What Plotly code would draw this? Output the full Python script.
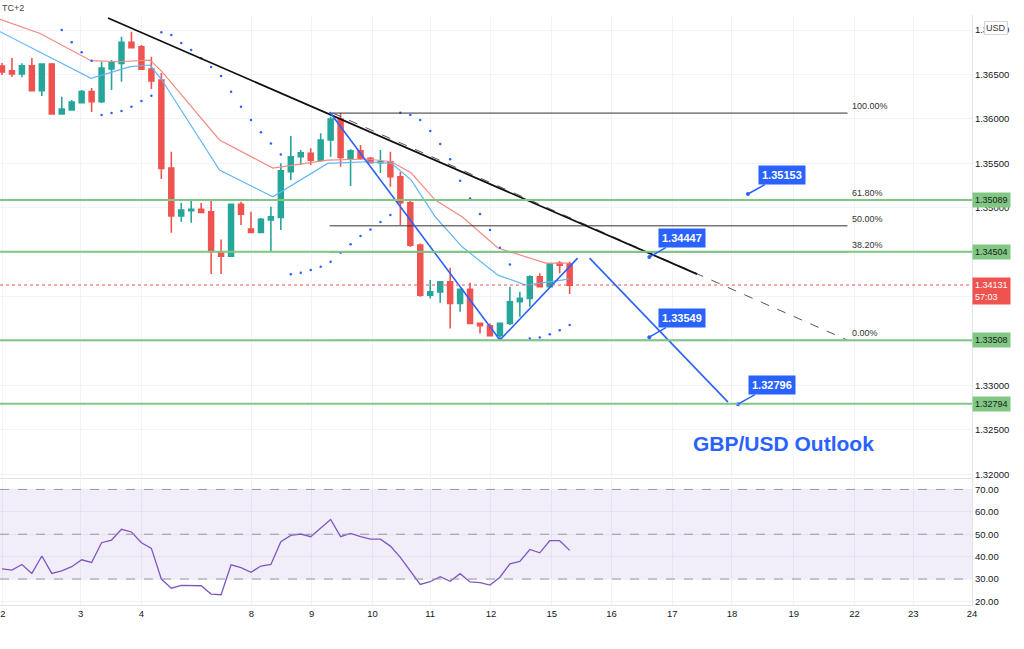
import plotly.graph_objects as go
from plotly.subplots import make_subplots

# GBP/USD 4h candles
opens = [1.36596, 1.36543, 1.36506, 1.36599, 1.36318, 1.36618, 1.36055, 1.36101, 1.36183, 1.36307,
         1.36194, 1.36562, 1.36626, 1.36863, 1.36813, 1.36562, 1.36438, 1.35447, 1.34907, 1.34966,
         1.34982, 1.34955, 1.34505, 1.34456, 1.35039, 1.34760, 1.34723, 1.34862, 1.34892, 1.35406,
         1.35575, 1.35613, 1.35537, 1.35763, 1.35999, 1.35557, 1.35642, 1.35557, 1.35507, 1.35518,
         1.35349, 1.35057, 1.34580, 1.34017, 1.34054, 1.34167, 1.33924, 1.34082, 1.33699, 1.33672,
         1.33559, 1.33699, 1.33942, 1.33980, 1.34223, 1.34111, 1.34374, 1.34366]
highs = [1.36630, 1.36686, 1.36626, 1.36686, 1.36624, 1.36630, 1.36250, 1.36213, 1.36326, 1.36348,
         1.36644, 1.36663, 1.36926, 1.36982, 1.36832, 1.36700, 1.36517, 1.35631, 1.35053, 1.35087,
         1.35053, 1.35087, 1.34644, 1.35042, 1.35068, 1.34955, 1.34884, 1.35012, 1.35500, 1.35808,
         1.35650, 1.35669, 1.35838, 1.36025, 1.36067, 1.35658, 1.35706, 1.35571, 1.35650, 1.35631,
         1.35406, 1.35087, 1.34599, 1.34186, 1.34175, 1.34325, 1.34085, 1.34156, 1.33708, 1.33699,
         1.33702, 1.34111, 1.34054, 1.34242, 1.34262, 1.34374, 1.34400, 1.34392]
lows = [1.36495, 1.36472, 1.36469, 1.36314, 1.36258, 1.36050, 1.36050, 1.36095, 1.36179, 1.36078,
        1.36179, 1.36326, 1.36419, 1.36799, 1.36551, 1.36337, 1.35323, 1.34719, 1.34843, 1.34831,
        1.34941, 1.34254, 1.34254, 1.34445, 1.34806, 1.34715, 1.34715, 1.34505, 1.34749, 1.35312,
        1.35481, 1.35481, 1.35518, 1.35575, 1.35462, 1.35245, 1.35537, 1.35498, 1.35391, 1.35237,
        1.34806, 1.34561, 1.33998, 1.33980, 1.33931, 1.33642, 1.33829, 1.33691, 1.33586, 1.33556,
        1.33510, 1.33680, 1.33773, 1.33886, 1.34107, 1.34102, 1.34262, 1.34029]
closes = [1.36528, 1.36506, 1.36599, 1.36318, 1.36618, 1.36055, 1.36112, 1.36191, 1.36307, 1.36194,
          1.36573, 1.36633, 1.36863, 1.36802, 1.36559, 1.36427, 1.35444, 1.34907, 1.34974, 1.34982,
          1.34949, 1.34505, 1.34456, 1.35039, 1.34929, 1.34723, 1.34870, 1.34899, 1.35417, 1.35575,
          1.35620, 1.35537, 1.35763, 1.35999, 1.35568, 1.35642, 1.35557, 1.35507, 1.35518, 1.35349,
          1.35057, 1.34580, 1.34017, 1.34054, 1.34167, 1.33924, 1.34082, 1.33699, 1.33672, 1.33559,
          1.33699, 1.33942, 1.33980, 1.34223, 1.34111, 1.34366, 1.34355, 1.34130]
candle_x = list(range(len(opens)))

# moving averages (sampled points)
ema_x = [-0.2, 3.77, 8.94, 11.7, 14.86, 16.06, 21.84, 27.2, 32.7, 36.7, 39.1, 41.1, 43.5, 46.2, 49.8, 54.6, 56.9]
ema_slow = [1.37122, 1.36964, 1.36656, 1.36644, 1.36663, 1.36532, 1.35763, 1.35447, 1.35537, 1.35549,
            1.35518, 1.35391, 1.35087, 1.34899, 1.34547, 1.34378, 1.34378]
ema_fast_x = [-0.2, 3.77, 8.94, 12.9, 14.86, 16.06, 21.84, 27.2, 32.7, 36.7, 39.1, 41.1, 43.5, 46.2, 49.8, 52.6, 56.9]
ema_fast = [1.36982, 1.36757, 1.36457, 1.36588, 1.36607, 1.36438, 1.35425, 1.35124, 1.35500, 1.35518,
            1.35500, 1.35312, 1.34899, 1.34561, 1.34242, 1.34130, 1.34197]

# parabolic SAR dots
sar_x = [6, 7, 8, 9, 10, 11, 12, 13, 14, 15, 16, 17, 18, 19, 20, 21, 22, 23, 24, 25, 26, 27, 28,
         29, 30, 31, 32, 33, 34, 35, 36, 37, 38, 39, 40, 41, 42, 43, 44, 45, 46, 47, 48, 49, 50, 51,
         53, 54, 55, 56, 57]
sar_y = [1.37001, 1.36863, 1.36750, 1.36656, 1.36044, 1.36067, 1.36089, 1.36137, 1.36202, 1.36261,
         1.36975, 1.36945, 1.36855, 1.36776, 1.36683, 1.36585, 1.36483, 1.36306, 1.36137, 1.35988,
         1.35849, 1.35723, 1.35599, 1.34253, 1.34268, 1.34299, 1.34336, 1.34392, 1.34494, 1.34591,
         1.34682, 1.34757, 1.34839, 1.34918, 1.36070, 1.36044, 1.35988, 1.35864, 1.35718, 1.35545,
         1.35304, 1.35106, 1.34929, 1.34749, 1.34550, 1.34363, 1.33528, 1.33541, 1.33578, 1.33623,
         1.33680]

rsi = [34.5, 34.0, 36.5, 32.5, 40.3, 32.5, 33.6, 35.5, 38.6, 37.4, 46.2, 47.4, 52.2, 51.0, 46.2,
       43.7, 30.0, 25.9, 27.2, 27.2, 27.0, 23.3, 23.0, 36.3, 35.1, 33.0, 35.8, 36.5, 46.7, 49.5,
       50.1, 48.9, 52.9, 56.6, 48.9, 50.4, 48.9, 47.8, 47.8, 44.7, 39.7, 33.7, 27.6, 28.8, 31.0,
       29.0, 32.4, 28.7, 28.4, 27.3, 30.8, 36.8, 37.9, 43.2, 41.7, 47.1, 47.1, 42.8]

day_pos = [0.1, 7.9, 14.0, 25.05, 31.1, 37.2, 43.0, 49.1, 55.2, 61.2, 67.3, 73.3, 79.5, 85.6, 91.5, 97.4]
day_txt = ["2", "3", "4", "8", "9", "10", "11", "12", "15", "16", "17", "18", "19", "22", "23", "24"]

levels = [1.35089, 1.34504, 1.33508, 1.32794]
fib_lvls = [1.36066, 1.35089, 1.34797, 1.34504, 1.33508]
fib_txt = ["100.00%", "61.80%", "50.00%", "38.20%", "0.00%"]
last_price = 1.34131

# drawn lines (x idx, price)
trend = [(10.64, 1.37136), (69.8, 1.34254)]
trend_dash = [(33.2, 1.36067), (84.9, 1.33510)]
zigzag = [(32.9, 1.36078), (50.0, 1.33511), (57.8, 1.34434)]
proj = [(59.0, 1.34434), (72.9, 1.32813)]
callouts = [("1.35153", 74.9, 1.35155, 34), ("1.34447", 65.0, 1.34445, 33),
            ("1.33549", 65.0, 1.33544, 33), ("1.32796", 73.9, 1.32790, 34)]

GREEN = "#26a69a"
RED = "#ef5350"
BLUE = "#2962ff"
LVL = "#81c784"
GRID = "#f0f3fa"

fig = make_subplots(rows=2, cols=1, shared_xaxes=True, vertical_spacing=0,
                    row_heights=[0.785, 0.215])

# RSI band first so it sits underneath
fig.add_trace(go.Scatter(x=[-0.2, 97.4], y=[30, 30], mode="lines", line=dict(width=0),
                         showlegend=False), row=2, col=1)
fig.add_trace(go.Scatter(x=[-0.2, 97.4], y=[70, 70], mode="lines", line=dict(width=0),
                         fill="tonexty", fillcolor="rgba(126,87,194,0.1)", showlegend=False), row=2, col=1)

fig.add_trace(go.Candlestick(x=candle_x, open=opens, high=highs, low=lows, close=closes,
                             increasing=dict(line=dict(color=GREEN, width=1.6), fillcolor=GREEN),
                             decreasing=dict(line=dict(color=RED, width=1.6), fillcolor=RED),
                             whiskerwidth=0, showlegend=False), row=1, col=1)
fig.add_trace(go.Scatter(x=ema_x, y=ema_slow, mode="lines", line=dict(color="#f28b82", width=1.2),
                         showlegend=False), row=1, col=1)
fig.add_trace(go.Scatter(x=ema_fast_x, y=ema_fast, mode="lines", line=dict(color="#64b5f6", width=1.2),
                         showlegend=False), row=1, col=1)
fig.add_trace(go.Scatter(x=sar_x, y=sar_y, mode="markers", marker=dict(color=BLUE, size=2.5),
                         showlegend=False), row=1, col=1)

def seg(pts, color, width, dash="solid"):
    fig.add_trace(go.Scatter(x=[p[0] for p in pts], y=[p[1] for p in pts], mode="lines",
                             line=dict(color=color, width=width, dash=dash), showlegend=False),
                  row=1, col=1)

for lv in levels:
    fig.add_hline(y=lv, line=dict(color=LVL, width=2), row=1, col=1)
fig.add_hline(y=last_price, line=dict(color=RED, width=1, dash="dot"), row=1, col=1)

for lv, t in zip(fib_lvls, fib_txt):
    seg([(32.9, lv), (84.9, lv)], "#333333", 1)
    fig.add_annotation(x=85.1, y=lv, text=t, showarrow=False, xanchor="left", yanchor="bottom",
                       font=dict(size=9, color="#333333", family="Arial"), row=1, col=1)

seg(trend_dash, "#555555", 1, "dash")
seg(trend, "#111111", 1.8)
seg(zigzag, BLUE, 1.6)
seg(proj, BLUE, 1.6)

for txt, cx, cy, dx in callouts:
    fig.add_trace(go.Scatter(x=[cx], y=[cy], mode="markers", marker=dict(color=BLUE, size=4),
                             showlegend=False), row=1, col=1)
    fig.add_annotation(x=cx, y=cy, ax=dx, ay=-19, text="<b>" + txt + "</b>", showarrow=True,
                       arrowhead=0, arrowcolor=BLUE, arrowwidth=1.5, bgcolor=BLUE, borderpad=3,
                       font=dict(color="white", size=11, family="Arial"), row=1, col=1)

fig.add_annotation(x=78.5, y=1.32351, text="<b>GBP/USD Outlook</b>", showarrow=False,
                   font=dict(size=21, color=BLUE, family="Arial"), row=1, col=1)

# right axis price tags
for lv in levels:
    fig.add_annotation(xref="paper", x=1.0, y=lv, yref="y", text=f"{lv:.5f}", showarrow=False,
                       xanchor="left", bgcolor=LVL, borderpad=2,
                       font=dict(size=9, color="#1b1b1b", family="Arial"))
fig.add_annotation(xref="paper", x=1.0, y=last_price, yref="y", yanchor="top",
                   text=f"{last_price:.5f}<br>57:03", showarrow=False, xanchor="left", align="left",
                   bgcolor=RED, borderpad=2, yshift=8, font=dict(size=9, color="white", family="Arial"))
fig.add_annotation(xref="paper", yref="paper", x=0, y=1, text="TC+2", showarrow=False,
                   xanchor="left", yanchor="bottom", font=dict(size=9, color="#444", family="Arial"))
fig.add_annotation(xref="paper", yref="paper", x=1.012, y=0.99, text="USD", showarrow=False,
                   xanchor="left", bgcolor="white", bordercolor="#d1d4dc", borderwidth=1, borderpad=1,
                   font=dict(size=9, color="#333", family="Arial"))

# RSI
for lv in [70, 50, 30]:
    fig.add_hline(y=lv, line=dict(color="#9598a1", width=1, dash="dash"), row=2, col=1)
fig.add_trace(go.Scatter(x=candle_x, y=rsi, mode="lines", line=dict(color="#7e57c2", width=1.3),
                         showlegend=False), row=2, col=1)

axfont = dict(size=9.5, color="#131722", family="Arial")
fig.update_xaxes(range=[-0.2, 97.4], tickvals=day_pos, ticktext=day_txt, showgrid=True,
                 gridcolor=GRID, zeroline=False, rangeslider_visible=False, tickfont=axfont,
                 showline=True, linecolor="#e0e3eb", ticks="", automargin=False)
fig.update_xaxes(showticklabels=False, row=1, col=1)
fig.update_yaxes(side="right", showgrid=True, gridcolor=GRID, zeroline=False, tickfont=axfont,
                 showline=True, linecolor="#e0e3eb", ticks="", automargin=False)
fig.update_yaxes(range=[1.31957, 1.37170], dtick=0.005, tickformat=".5f", row=1, col=1)
fig.update_yaxes(range=[18.4, 75.04], dtick=10, tickformat=".2f", row=2, col=1)

fig.update_layout(width=1024, height=649, margin=dict(l=0, r=52, t=15, b=44, autoexpand=False),
                  plot_bgcolor="white", paper_bgcolor="white", hovermode=False)
fig.write_html("out.html", config={"displayModeBar": False},
               post_script="document.body.style.margin='0px';")
